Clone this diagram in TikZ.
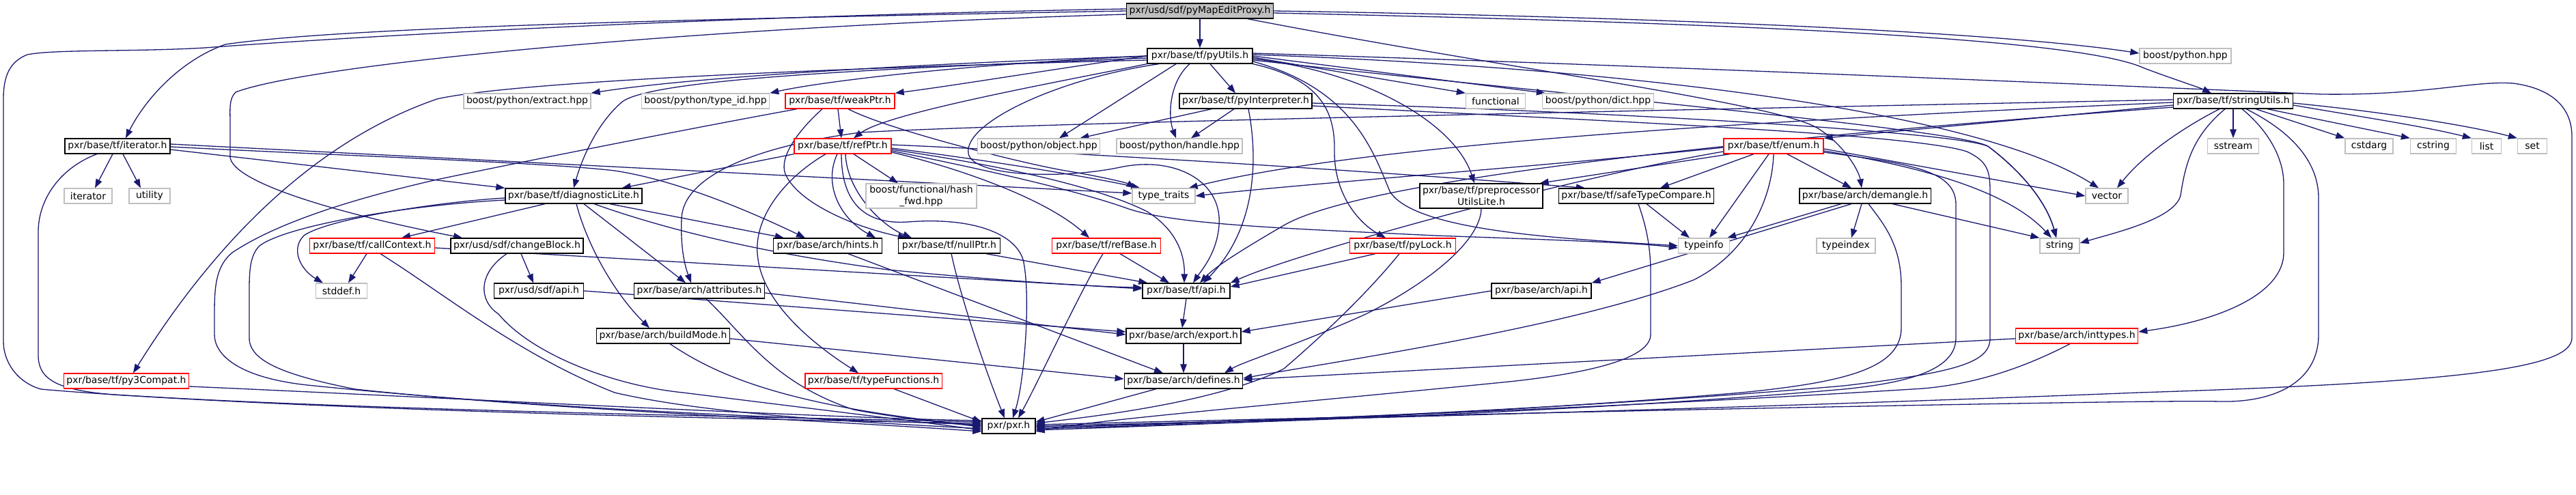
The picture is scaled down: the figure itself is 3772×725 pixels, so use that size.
\documentclass[tikz,border=0pt]{standalone}
\usepackage{fontspec}
\setmainfont{DejaVu Sans}
\usetikzlibrary{arrows.meta}
\definecolor{edgec}{RGB}{25,25,112}
\definecolor{grayb}{RGB}{191,191,191}
\pgfdeclarelayer{bg}
\pgfsetlayers{bg,main}
\tikzset{
  nd/.style={draw=black, line width=1.3pt, fill=white, minimum height=22pt, inner xsep=4pt, inner ysep=0pt, font=\fontsize{14}{17}\selectfont, text=black, align=center},
  nr/.style={nd, draw=red},
  ng/.style={nd, draw=grayb},
  nm/.style={nd, fill=grayb},
  ed/.style={draw=edgec, line width=1.3pt, -{Triangle[length=13pt,width=9.5pt]}},
}
\begin{document}
\begin{tikzpicture}[x=1pt,y=-1pt]
\useasboundingbox (0,0) rectangle (3772,725);
% nodes
\node[nm,minimum width=214pt] (main) at (1757,16) {pxr/usd/sdf/pyMapEditProxy.h};
\node[nd,minimum width=154pt] (pyUtils) at (1757,82) {pxr/base/tf/pyUtils.h};
\node[ng,minimum width=134pt] (bpy) at (3200,82) {boost/python.hpp};
\node[nd,minimum width=154pt] (iter) at (172,214) {pxr/base/tf/iterator.h};
\node[ng,minimum width=184pt] (extract) at (772,148) {boost/python/extract.hpp};
\node[ng,minimum width=186pt] (typeid) at (1033,148) {boost/python/type\_id.hpp};
\node[nr,minimum width=160pt] (weak) at (1230,148) {pxr/base/tf/weakPtr.h};
\node[nd,minimum width=192pt] (pyInterp) at (1824,148) {pxr/base/tf/pyInterpreter.h};
\node[ng,minimum width=87pt] (functional) at (2190,148) {functional};
\node[ng,minimum width=163pt] (dict) at (2340,148) {boost/python/dict.hpp};
\node[nd,minimum width=175pt] (strU) at (3270,148) {pxr/base/tf/stringUtils.h};
\node[nr,minimum width=142pt] (refPtr) at (1234,214) {pxr/base/tf/refPtr.h};
\node[ng,minimum width=178pt] (object) at (1521,214) {boost/python/object.hpp};
\node[ng,minimum width=183pt] (handle) at (1727,214) {boost/python/handle.hpp};
\node[nr,minimum width=146pt] (enum) at (2597,214) {pxr/base/tf/enum.h};
\node[ng,minimum width=75pt] (sstream) at (3270,214) {sstream};
\node[ng,minimum width=70pt] (cstdarg) at (3469,214) {cstdarg};
\node[ng,minimum width=67pt] (cstring) at (3563,214) {cstring};
\node[ng,minimum width=43pt] (list) at (3641,214) {list};
\node[ng,minimum width=43pt] (set) at (3708,214) {set};
\node[ng,minimum width=70pt] (iterator) at (129,287) {iterator};
\node[ng,minimum width=60pt] (utility) at (219,287) {utility};
\node[nd,minimum width=198pt] (diag) at (840,287) {pxr/base/tf/diagnosticLite.h};
\node[ng,minimum width=162pt,minimum height=36pt] (hash) at (1349,287) {boost/functional/hash\\\_fwd.hpp};
\node[ng,minimum width=92pt] (tt) at (1704,287) {type\_traits};
\node[nd,minimum width=179pt,minimum height=36pt] (ppu) at (2169,287) {pxr/base/tf/preprocessor\\UtilsLite.h};
\node[nd,minimum width=226pt] (stc) at (2396,287) {pxr/base/tf/safeTypeCompare.h};
\node[nd,minimum width=191pt] (dem) at (2731,287) {pxr/base/arch/demangle.h};
\node[ng,minimum width=62pt] (vector) at (3085,287) {vector};
\node[nr,minimum width=183pt] (callCtx) at (545,360) {pxr/base/tf/callContext.h};
\node[nd,minimum width=194pt] (chgBlk) at (757,360) {pxr/usd/sdf/changeBlock.h};
\node[nd,minimum width=159pt] (hints) at (1212,360) {pxr/base/arch/hints.h};
\node[nd,minimum width=149pt] (nullPtr) at (1390,360) {pxr/base/tf/nullPtr.h};
\node[nr,minimum width=159pt] (refBase) at (1620,360) {pxr/base/tf/refBase.h};
\node[nr,minimum width=155pt] (pyLock) at (2054,360) {pxr/base/tf/pyLock.h};
\node[ng,minimum width=75pt] (typeinfo) at (2495,360) {typeinfo};
\node[ng,minimum width=86pt] (typeindex) at (2703,360) {typeindex};
\node[ng,minimum width=58pt] (string) at (3016,360) {string};
\node[ng,minimum width=75pt] (stddef) at (500,426) {stddef.h};
\node[nd,minimum width=131pt] (sdfapi) at (789,426) {pxr/usd/sdf/api.h};
\node[nd,minimum width=189pt] (attr) at (1024,426) {pxr/base/arch/attributes.h};
\node[nd,minimum width=128pt] (tfapi) at (1737,426) {pxr/base/tf/api.h};
\node[nd,minimum width=146pt] (archapi) at (2257,426) {pxr/base/arch/api.h};
\node[nd,minimum width=193pt] (build) at (971,492) {pxr/base/arch/buildMode.h};
\node[nd,minimum width=168pt] (export) at (1733,492) {pxr/base/arch/export.h};
\node[nr,minimum width=178pt] (inttypes) at (3041,492) {pxr/base/arch/inttypes.h};
\node[nr,minimum width=182pt] (py3) at (185,558) {pxr/base/tf/py3Compat.h};
\node[nr,minimum width=199pt] (typeFn) at (1279,558) {pxr/base/tf/typeFunctions.h};
\node[nd,minimum width=173pt] (defines) at (1733,558) {pxr/base/arch/defines.h};
\node[nd,minimum width=78pt] (pxr) at (1477,624) {pxr/pxr.h};

\begin{pgfonlayer}{bg}
% main
\draw[ed] (main.south) -- (pyUtils.north);
\draw[ed] (main.east) .. controls (2500,26) and (2950,50) .. ([yshift=4pt]bpy.west);
\draw[ed] ([yshift=-3pt]main.east) .. controls (2600,35) and (3050,58) .. (3140,100) .. controls (3180,115) and (3220,128) .. ([xshift=-32pt]strU.north);
\draw[ed] ([xshift=70pt]main.south) .. controls (2200,100) and (2600,150) .. (2662,188) .. controls (2700,212) and (2722,250) .. ([xshift=-5pt]dem.north);
\draw[ed] (main.west) .. controls (1000,28) and (500,40) .. (330,65) .. controls (260,90) and (210,150) .. ([xshift=12pt]iter.north);
\draw[ed] ([yshift=3pt]main.west) .. controls (1000,25) and (500,55) .. (300,70) .. controls (200,76) and (80,72) .. (40,80) .. controls (15,90) and (5,110) .. (5,145) -- (5,500) .. controls (5,530) and (25,560) .. (60,570) .. controls (400,600) and (1200,612) .. ([yshift=6pt]pxr.west);
\draw[ed] ([yshift=-5pt]main.west) .. controls (1000,40) and (450,95) .. (345,135) .. controls (335,145) and (337,160) .. (337,180) -- (337,230) .. controls (340,265) and (480,310) .. ([xshift=-80pt]chgBlk.north);
% pyUtils
\draw[ed] (pyUtils.west) .. controls (1300,95) and (1000,115) .. (extract.north east);
\draw[ed] (pyUtils.west) .. controls (1400,95) and (1200,120) .. (typeid.north east);
\draw[ed] (pyUtils.west) .. controls (1550,100) and (1400,125) .. (weak.north east);
\draw[ed] (pyUtils.south west) .. controls (1550,120) and (1300,165) .. ([xshift=16pt]refPtr.north);
\draw[ed] ([yshift=-3pt]pyUtils.west) .. controls (1300,100) and (950,115) .. (910,150) .. controls (870,185) and (850,240) .. (diag.north);
\draw[ed] ([yshift=-6pt]pyUtils.west) .. controls (1200,100) and (750,120) .. (640,145) .. controls (480,200) and (330,330) .. ([xshift=10pt]py3.north);
\draw[ed] ([xshift=-35pt]pyUtils.south) -- ([xshift=30pt]object.north);
\draw[ed] ([xshift=-15pt]pyUtils.south) .. controls (1712,120) and (1710,170) .. ([xshift=-5pt]handle.north);
\draw[ed] ([xshift=15pt]pyUtils.south) -- ([xshift=-15pt]pyInterp.north);
\draw[ed] ([xshift=-60pt]pyUtils.south) .. controls (1550,115) and (1410,180) .. (1418,225) .. controls (1425,260) and (1560,262) .. (1640,245) .. controls (1720,228) and (1790,265) .. (1785,330) .. controls (1782,370) and (1760,395) .. ([xshift=10pt]tfapi.north);
\draw[ed] (pyUtils.south east) .. controls (1930,115) and (1955,160) .. (1954,220) .. controls (1953,290) and (1995,330) .. ([xshift=-25pt]pyLock.north);
\draw[ed] ([yshift=-4pt]pyUtils.east) .. controls (2000,105) and (2130,180) .. ([xshift=-10pt]ppu.north);
\draw[ed] ([yshift=-2pt]pyUtils.east) -- (functional.north west);
\draw[ed] (pyUtils.east) -- ([xshift=5pt]dict.north west);
\draw[ed] ([yshift=-8pt]pyUtils.east) .. controls (1980,130) and (2010,220) .. (2035,280) .. controls (2070,340) and (2300,350) .. (typeinfo.west);
\draw[ed] ([yshift=2pt]pyUtils.east) .. controls (2400,100) and (2900,165) .. ([xshift=-12pt]vector.north);
\draw[ed] ([yshift=-6pt]pyUtils.east) .. controls (2300,140) and (2880,190) .. (2912,215) .. controls (2965,255) and (2998,300) .. ([xshift=-5pt]string.north);
\draw[ed] ([yshift=4pt]pyUtils.east) .. controls (2400,95) and (3200,130) .. (3400,138) .. controls (3550,140) and (3620,118) .. (3680,122) .. controls (3740,130) and (3766,160) .. (3766,200) -- (3766,495) .. controls (3766,540) and (3600,560) .. (3132,575) .. controls (2500,600) and (1800,618) .. (pxr.east);
% pyInterp
\draw[ed] ([xshift=-50pt]pyInterp.south) -- ([xshift=-30pt]object.north east);
\draw[ed] ([xshift=-17pt]pyInterp.south) -- ([xshift=17pt]handle.north);
\draw[ed] ([xshift=4pt]pyInterp.south) .. controls (1840,220) and (1845,330) .. ([xshift=25pt]tfapi.north);
\draw[ed] ([yshift=-3pt]pyInterp.east) .. controls (2400,165) and (2880,195) .. (2912,215) .. controls (2965,255) and (2998,300) .. ([xshift=-5pt]string.north);
\draw[ed] ([yshift=-7pt]pyInterp.east) .. controls (2300,175) and (2800,195) .. (2880,222) .. controls (2910,236) and (2914,250) .. (2914,280) -- (2914,495) .. controls (2914,530) and (2870,545) .. (2700,565) .. controls (2300,600) and (1800,620) .. ([yshift=-2pt]pxr.east);
% stringUtils
\draw[ed] (strU.south) -- (sstream.north);
\draw[ed] ([xshift=33pt]strU.south) -- (cstdarg.north west);
\draw[ed] ([xshift=50pt]strU.south) -- (cstring.north west);
\draw[ed] ([yshift=-6pt]strU.east) .. controls (3450,170) and (3550,185) .. (list.north west);
\draw[ed] ([yshift=-3pt]strU.east) .. controls (3500,165) and (3620,185) .. (set.north west);
\draw[ed] ([xshift=-12pt]strU.south) .. controls (3210,200) and (3200,240) .. (3193,286) .. controls (3185,320) and (3100,340) .. ([yshift=4pt]string.east);
\draw[ed] ([xshift=-20pt]strU.south) .. controls (3200,185) and (3140,225) .. ([xshift=15pt]vector.north);
\draw[ed] ([xshift=13pt]strU.south) .. controls (3320,190) and (3344,230) .. (3344,270) -- (3344,370) .. controls (3344,430) and (3250,470) .. ([yshift=6pt]inttypes.east);
\draw[ed] ([xshift=19pt]strU.south) .. controls (3360,195) and (3395,240) .. (3395,290) -- (3395,490) .. controls (3395,560) and (3330,590) .. (3250,588) .. controls (3150,585) and (2200,605) .. ([yshift=2pt]pxr.east);
\draw[ed] ([yshift=-6pt]strU.west) -- (enum.north east);
\draw[ed] ([yshift=-2pt]strU.west) .. controls (2600,175) and (2000,210) .. ([xshift=-10pt]tt.north east);
\draw[ed] ([yshift=2pt]strU.west) .. controls (2500,160) and (1500,180) .. (1260,194) .. controls (1100,215) and (1000,260) .. (998,320) .. controls (996,370) and (1005,395) .. ([xshift=-12pt]attr.north);
\draw[ed] ([yshift=-9pt]strU.west) .. controls (2600,200) and (2000,260) .. (1880,330) .. controls (1820,365) and (1780,390) .. ([xshift=20pt]tfapi.north);
% enum
\draw[ed] ([xshift=20pt]enum.south) -- ([xshift=-20pt]dem.north);
\draw[ed] ([yshift=-4pt]enum.east) -- (vector.west);
\draw[ed] ([yshift=-7pt]enum.east) .. controls (2850,250) and (2950,290) .. ([xshift=-12pt]string.north);
\draw[ed] ([yshift=-9pt]enum.east) .. controls (2800,240) and (2864,250) .. (2864,300) -- (2864,495) .. controls (2864,540) and (2800,560) .. (2700,570) .. controls (2300,605) and (1800,620) .. ([yshift=-4pt]pxr.east);
\draw[ed] ([xshift=-7pt]enum.south) -- ([xshift=8pt]typeinfo.north);
\draw[ed] ([xshift=-29pt]enum.south) -- ([xshift=35pt]stc.north);
\draw[ed] ([xshift=-64pt]enum.south) -- ([xshift=-5pt]ppu.north east);
\draw[ed] ([yshift=-2pt]enum.west) .. controls (2300,240) and (1900,270) .. (tt.east);
\draw[ed] ([yshift=-8pt]enum.west) .. controls (2300,260) and (1900,370) .. (tfapi.north east);
\draw[ed] (enum.south) .. controls (2595,290) and (2560,370) .. (2480,410) .. controls (2300,480) and (1950,530) .. ([yshift=4pt]defines.east);
% demangle
\draw[ed] ([xshift=-5pt]dem.south) -- ([xshift=8pt]typeindex.north);
\draw[ed] ([xshift=-35pt]dem.south) -- ([xshift=-4pt]typeinfo.north east);
\draw[ed] ([xshift=-20pt]dem.south) -- (archapi.north east);
\draw[ed] ([xshift=40pt]dem.south) -- (string.north west);
\draw[ed] ([xshift=5pt]dem.south) .. controls (2760,330) and (2784,360) .. (2784,420) -- (2784,480) .. controls (2784,540) and (2700,560) .. (2550,575) .. controls (2200,605) and (1800,620) .. ([yshift=-6pt]pxr.east);
% safeTypeCompare
\draw[ed] ([xshift=15pt]stc.south) -- ([xshift=-21pt]typeinfo.north);
\draw[ed] ([xshift=3pt]stc.south) .. controls (2410,330) and (2417,360) .. (2417,400) -- (2417,490) .. controls (2417,530) and (2300,550) .. (2200,560) .. controls (1900,590) and (1600,615) .. ([yshift=-8pt]pxr.east);
% preprocessorUtilsLite
\draw[ed] (ppu.south) .. controls (2168,350) and (2100,410) .. (2000,460) .. controls (1900,505) and (1820,530) .. ([xshift=60pt]defines.north);
% pyLock
\draw[ed] ([xshift=-40pt]pyLock.south) -- ([yshift=6pt]tfapi.east);
\draw[ed] ([xshift=-5pt]pyLock.south) .. controls (2010,420) and (1950,480) .. (1880,540) .. controls (1780,590) and (1600,610) .. ([yshift=4pt]pxr.east);
% arch api
\draw[ed] (archapi.west) -- ([yshift=6pt]export.east);
% inttypes
\draw[ed] ([yshift=-4pt]inttypes.west) -- ([yshift=2pt]defines.east);
\draw[ed] ([xshift=-10pt]inttypes.south) .. controls (2980,530) and (2900,565) .. (2800,570) .. controls (2400,595) and (1800,620) .. (pxr.east);
% refBase
\draw[ed] ([xshift=20pt]refBase.south) -- ([xshift=-25pt]tfapi.north);
\draw[ed] ([xshift=-5pt]refBase.south) .. controls (1580,430) and (1520,560) .. ([xshift=14pt]pxr.north);
% nullPtr
\draw[ed] ([xshift=54pt]nullPtr.south) -- ([xshift=8pt]tfapi.north west);
\draw[ed] ([xshift=3pt]nullPtr.south) .. controls (1410,450) and (1450,560) .. ([xshift=-6pt]pxr.north);
% typeFunctions
\draw[ed] ([xshift=30pt]typeFn.south) -- ([yshift=6pt]pxr.west);
% defines, export, api
\draw[ed] ([xshift=-40pt]defines.south) -- ([yshift=6pt]pxr.east);
\draw[ed] (export.south) -- (defines.north);
\draw[ed] (tfapi.south) -- ([xshift=-2pt]export.north);
\draw[ed] (sdfapi.east) -- ([yshift=6pt]export.west);
\draw[ed] ([yshift=-3pt]attr.east) -- ([yshift=2pt]export.west);
\draw[ed] ([xshift=10pt]attr.south) .. controls (1090,490) and (1130,560) .. (1250,600) .. controls (1330,615) and (1400,620) .. ([yshift=-2pt]pxr.west);
% buildMode
\draw[ed] ([yshift=-4pt]build.east) -- ([yshift=3pt]defines.west);
\draw[ed] ([xshift=10pt]build.south) .. controls (1050,550) and (1150,595) .. ([yshift=0pt]pxr.west);
% hints
\draw[ed] ([xshift=30pt]hints.south) -- ([xshift=-30pt]defines.north);
% callContext
\draw[ed] ([xshift=-8pt]callCtx.south) -- ([xshift=10pt]stddef.north);
\draw[ed] ([yshift=-3pt]callCtx.east) -- ([yshift=3pt]tfapi.west);
\draw[ed] ([xshift=12pt]callCtx.south) .. controls (650,430) and (760,520) .. (900,575) .. controls (1050,610) and (1300,620) .. ([yshift=-4pt]pxr.west);
% changeBlock
\draw[ed] ([xshift=6pt]chgBlk.south) -- ([xshift=-8pt]sdfapi.north);
\draw[ed] ([xshift=-15pt]chgBlk.south) .. controls (700,400) and (700,440) .. (730,460) .. controls (780,520) and (900,565) .. (1000,575) .. controls (1200,600) and (1350,618) .. ([yshift=-6pt]pxr.west);
% diagnosticLite
\draw[ed] ([xshift=-42pt]diag.south) -- ([xshift=43pt]callCtx.north);
\draw[ed] ([yshift=-3pt]diag.west) .. controls (650,295) and (480,320) .. (445,345) .. controls (425,365) and (440,395) .. ([xshift=-27pt]stddef.north);
\draw[ed] ([yshift=-6pt]diag.west) .. controls (600,300) and (420,330) .. (380,360) .. controls (365,375) and (365,400) .. (365,430) -- (365,495) .. controls (365,530) and (420,550) .. (520,570) .. controls (800,600) and (1200,615) .. ([yshift=-8pt]pxr.west);
\draw[ed] ([xshift=15pt]diag.south) -- ([xshift=-20pt]attr.north);
\draw[ed] ([xshift=4pt]diag.south) .. controls (860,360) and (900,430) .. ([xshift=-20pt]build.north);
\draw[ed] ([xshift=53pt]diag.south) -- ([xshift=16pt]hints.north west);
\draw[ed] ([xshift=30pt]diag.south) .. controls (1000,345) and (1150,375) .. (1300,395) .. controls (1450,410) and (1600,420) .. ([yshift=5pt]tfapi.west);
% iterator
\draw[ed] ([xshift=-7pt]iter.south) -- ([xshift=10pt]iterator.north);
\draw[ed] ([xshift=8pt]iter.south) -- ([xshift=-13pt]utility.north);
\draw[ed] ([xshift=-30pt]iter.south) .. controls (90,245) and (56,290) .. (56,340) -- (56,520) .. controls (56,560) and (90,575) .. (200,580) .. controls (600,605) and (1200,616) .. ([yshift=4pt]pxr.west);
\draw[ed] ([yshift=-5pt]iter.east) -- (diag.north west);
\draw[ed] ([yshift=-1pt]iter.east) .. controls (500,228) and (800,238) .. (900,250) .. controls (1000,265) and (1120,320) .. ([xshift=-33pt]hints.north);
\draw[ed] ([yshift=3pt]iter.east) -- ([yshift=4pt]tt.west);
% weakPtr
\draw[ed] ([xshift=-3pt]weak.south) -- ([xshift=-2pt]refPtr.north);
\draw[ed] ([xshift=-63pt]weak.south) .. controls (1000,190) and (750,240) .. (640,263) .. controls (500,295) and (400,330) .. (340,370) .. controls (316,390) and (314,420) .. (314,460) -- (314,490) .. controls (314,520) and (350,555) .. (460,565) .. controls (800,600) and (1200,614) .. ([yshift=2pt]pxr.west);
\draw[ed] ([xshift=-26pt]weak.south) .. controls (1170,190) and (1140,230) .. (1150,255) .. controls (1170,300) and (1260,335) .. ([xshift=-62pt]nullPtr.north);
\draw[ed] ([xshift=12pt]weak.south) .. controls (1300,190) and (1500,240) .. (1560,250) .. controls (1620,260) and (1650,268) .. ([xshift=5pt]tt.north west);
% refPtr
\draw[ed] (refPtr.south west) -- ([xshift=-30pt]diag.north east);
\draw[ed] ([xshift=16pt]refPtr.south) -- ([xshift=-34pt]hash.north);
\draw[ed] ([yshift=-3pt]refPtr.east) .. controls (1450,235) and (1600,260) .. ([xshift=12pt]tt.north west);
\draw[ed] ([yshift=-7pt]refPtr.east) .. controls (1450,250) and (1580,280) .. (1650,305) .. controls (1720,330) and (1900,335) .. (2100,345) .. controls (2300,352) and (2400,356) .. ([yshift=-3pt]typeinfo.west);
\draw[ed] ([yshift=2pt]refPtr.east) .. controls (1600,225) and (2000,250) .. ([xshift=-75pt]stc.north);
\draw[ed] ([yshift=-9pt]refPtr.east) .. controls (1400,245) and (1530,290) .. ([xshift=-25pt]refBase.north);
\draw[ed] ([xshift=-8pt]refPtr.south) .. controls (1205,270) and (1230,320) .. ([xshift=70pt]hints.north);
\draw[ed] ([xshift=4pt]refPtr.south) .. controls (1240,280) and (1290,330) .. ([xshift=-55pt]nullPtr.north);
\draw[ed] ([xshift=-25pt]refPtr.south) .. controls (1150,260) and (1100,320) .. (1110,380) .. controls (1120,450) and (1200,510) .. ([xshift=-22pt]typeFn.north);
\draw[ed] ([xshift=-2pt]refPtr.south) .. controls (1232,290) and (1260,330) .. (1330,325) .. controls (1420,318) and (1485,340) .. (1498,380) .. controls (1510,430) and (1500,560) .. ([xshift=6pt]pxr.north);
\draw[ed] ([yshift=-5pt]refPtr.east) .. controls (1450,240) and (1600,270) .. (1680,310) .. controls (1720,335) and (1735,370) .. ([xshift=-3pt]tfapi.north);
% py3Compat
\draw[ed] ([yshift=-8pt]py3.east) .. controls (600,580) and (1200,612) .. ([yshift=8pt]pxr.west);
\end{pgfonlayer}
\end{tikzpicture}
\end{document}
